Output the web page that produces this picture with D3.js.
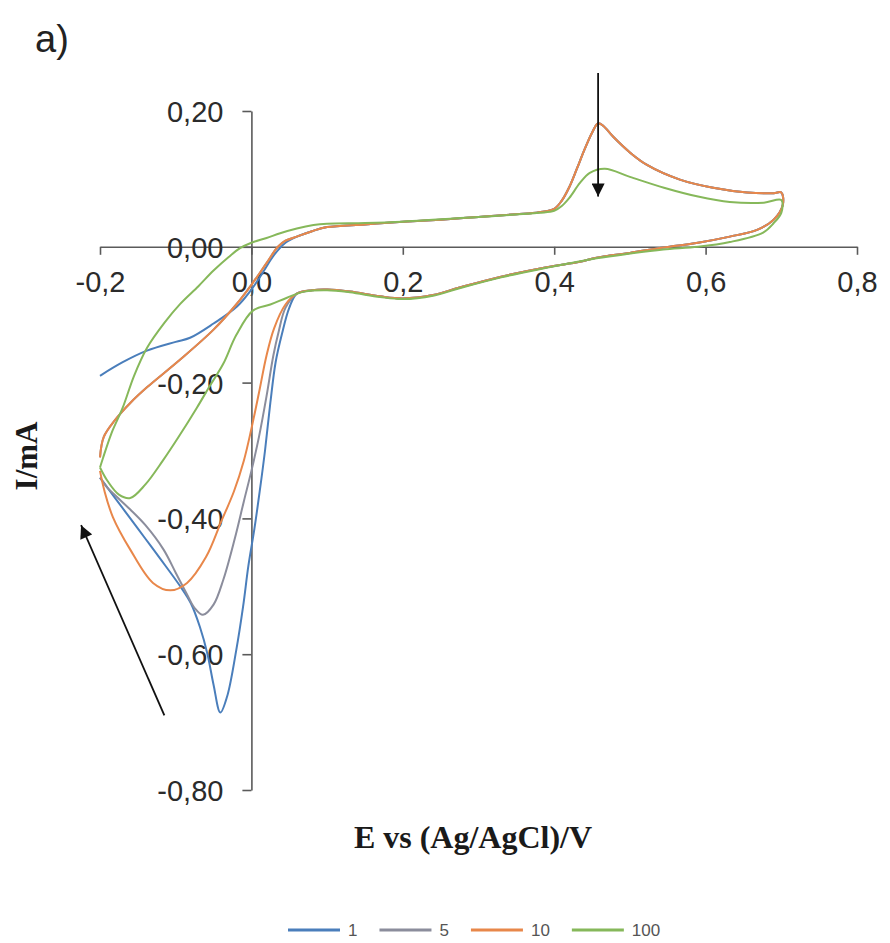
<!DOCTYPE html>
<html>
<head>
<meta charset="utf-8">
<script src="https://cdn.jsdelivr.net/npm/d3@7"></script>
<style>
  body { margin: 0; background: #fff; }
  svg { display: block; }
  .tick text { font-family: "Liberation Sans", Arial, sans-serif; font-size: 29px; fill: #2b2b2b; }
  .axis path, .axis line { stroke: #5a5a5a; stroke-width: 1.6; }
</style>
</head>
<body>
<svg id="chart" width="890" height="943"></svg>
<script>
// ---- data (E in V, I in mA), in scan order ----
const seriesNames = ['1', '5', '10', '100']
const seriesColors = ['#4a7ebb', '#8b8d9c', '#e8874a', '#86b85a']
const xTicks = [-0.2, 0, 0.2, 0.4, 0.6, 0.8]
const yTicks = [0.2, 0, -0.2, -0.4, -0.6, -0.8]

// anodic plateau + oxidation peak shared by 1, 5 and 10
const upperBranch = [[0.06, 0.015], [0.08, 0.023], [0.10, 0.029], [0.15, 0.033], [0.20, 0.037], [0.25, 0.040],
  [0.30, 0.044], [0.35, 0.048], [0.38, 0.051], [0.40, 0.056], [0.41, 0.068], [0.42, 0.088], [0.43, 0.115],
  [0.44, 0.143], [0.45, 0.168], [0.458, 0.182], [0.465, 0.178], [0.478, 0.162], [0.50, 0.139], [0.522, 0.121],
  [0.566, 0.099], [0.61, 0.087], [0.655, 0.080], [0.69, 0.079], [0.70, 0.080]]
// return scan from 0.7 V back to about 0.06 V
const lowerBranch = [[0.702, 0.062], [0.69, 0.040], [0.668, 0.025], [0.632, 0.015], [0.59, 0.006], [0.544, -0.001],
  [0.50, -0.009], [0.456, -0.016], [0.434, -0.022], [0.39, -0.030], [0.33, -0.044], [0.275, -0.060], [0.24, -0.071],
  [0.20, -0.076], [0.17, -0.073], [0.13, -0.066], [0.10, -0.063], [0.08, -0.064], [0.06, -0.069]]
// anodic rise from the -0.2 V vertex (5 and 10)
const vertexRise = [[-0.2, -0.31], [-0.195, -0.28], [-0.18, -0.255], [-0.16, -0.23], [-0.138, -0.207],
  [-0.094, -0.166], [-0.05, -0.122], [-0.02, -0.085], [0.0, -0.056], [0.02, -0.024], [0.035, 0.0], [0.045, 0.009]]

const cv1Start = [[-0.2, -0.19], [-0.17, -0.17], [-0.138, -0.153], [-0.1, -0.14], [-0.081, -0.134], [-0.05, -0.113],
  [-0.019, -0.088], [0.0, -0.063], [0.015, -0.038], [0.03, -0.012], [0.045, 0.006]]
const cv1Dive = [[0.05, -0.09], [0.04, -0.13], [0.032, -0.17], [0.025, -0.23], [0.018, -0.30], [0.011, -0.36],
  [0.004, -0.415], [-0.004, -0.47], [-0.011, -0.53], [-0.02, -0.594], [-0.032, -0.662], [-0.041, -0.686],
  [-0.05, -0.645], [-0.058, -0.60], [-0.068, -0.56], [-0.08, -0.525], [-0.094, -0.50], [-0.12, -0.46],
  [-0.14, -0.43], [-0.16, -0.40], [-0.18, -0.37], [-0.19, -0.355], [-0.2, -0.34]]
const cv5Dive = [[0.045, -0.09], [0.036, -0.125], [0.029, -0.16], [0.02, -0.22], [0.01, -0.28], [0.0, -0.33],
  [-0.01, -0.375], [-0.022, -0.43], [-0.037, -0.49], [-0.05, -0.527], [-0.064, -0.542], [-0.075, -0.532],
  [-0.085, -0.512], [-0.10, -0.48], [-0.116, -0.446], [-0.14, -0.41], [-0.16, -0.387], [-0.18, -0.366],
  [-0.19, -0.355], [-0.2, -0.34]]
const cv10Dive = [[0.045, -0.085], [0.03, -0.12], [0.02, -0.16], [0.01, -0.215], [0.0, -0.268], [-0.01, -0.315],
  [-0.023, -0.36], [-0.04, -0.405], [-0.06, -0.457], [-0.085, -0.495], [-0.107, -0.506], [-0.13, -0.495],
  [-0.16, -0.446], [-0.183, -0.398], [-0.194, -0.36], [-0.2, -0.33]]

const cv100 = [[-0.2, -0.325], [-0.196, -0.311], [-0.185, -0.275], [-0.17, -0.237], [-0.155, -0.19], [-0.138, -0.149],
  [-0.115, -0.112], [-0.094, -0.084], [-0.07, -0.058], [-0.05, -0.035], [-0.03, -0.015], [-0.015, -0.002], [0.0, 0.006],
  [0.02, 0.013], [0.038, 0.020], [0.06, 0.027], [0.082, 0.032], [0.10, 0.034], [0.15, 0.035], [0.20, 0.037],
  [0.30, 0.044], [0.38, 0.050], [0.40, 0.053], [0.41, 0.060], [0.42, 0.072], [0.434, 0.094], [0.447, 0.109],
  [0.467, 0.115], [0.50, 0.103], [0.545, 0.087], [0.59, 0.074], [0.632, 0.066], [0.677, 0.065], [0.70, 0.069],
  [0.70, 0.050], [0.69, 0.035], [0.676, 0.021], [0.632, 0.007], [0.59, 0.0], [0.544, -0.004], [0.50, -0.010],
  [0.456, -0.017], [0.39, -0.031], [0.33, -0.045], [0.275, -0.061], [0.24, -0.072], [0.20, -0.077], [0.17, -0.074],
  [0.13, -0.067], [0.10, -0.064], [0.07, -0.066], [0.047, -0.075], [0.025, -0.085], [0.002, -0.094], [-0.02, -0.13],
  [-0.037, -0.172], [-0.055, -0.205], [-0.072, -0.237], [-0.095, -0.278], [-0.117, -0.315], [-0.14, -0.35],
  [-0.16, -0.37], [-0.175, -0.365], [-0.19, -0.345], [-0.2, -0.325]]

const cv1 = [...cv1Start, ...upperBranch, ...lowerBranch, ...cv1Dive]
const cv5 = [...vertexRise, ...upperBranch, ...lowerBranch, ...cv5Dive]
const cv10 = [...vertexRise, ...upperBranch, ...lowerBranch, ...cv10Dive]
const curves = [cv1, cv5, cv10, cv100]

// annotation arrows, [from, to] in data units
const arrows = [[[0.458, 0.256], [0.458, 0.074]], [[-0.115, -0.69], [-0.225, -0.41]]]

// ---- drawing ----
const svg = d3.select('#chart')
const x = d3.scaleLinear().domain([-0.2, 0.8]).range([100, 857])
const y = d3.scaleLinear().domain([-0.8, 0.2]).range([790, 111])

const locale = d3.formatLocale({ decimal: ',', thousands: '.', grouping: [3], currency: ['', ''], minus: '-' })

const xAxis = svg.append('g')
    .attr('class', 'axis')
    .attr('transform', `translate(0,${y(0)})`)
    .call(d3.axisBottom(x).tickValues(xTicks).tickSize(8).tickSizeOuter(0).tickFormat(locale.format('.1f')))
xAxis.selectAll('.tick text').attr('y', 45).attr('dy', 0)

const yAxis = svg.append('g')
    .attr('class', 'axis')
    .attr('transform', `translate(${x(0)},0)`)
    .call(d3.axisLeft(y).tickValues(yTicks).tickSize(9).tickSizeOuter(0).tickFormat(locale.format('.2f')))
yAxis.selectAll('.tick text').attr('x', -28).attr('dy', '0.36em')

const line = d3.line()
    .x(d => x(d[0]))
    .y(d => y(d[1]))
    .curve(d3.curveCatmullRom.alpha(0.5))

svg.append('g')
    .selectAll('path')
    .data(curves)
    .enter()
    .append('path')
    .attr('d', line)
    .attr('fill', 'none')
    .attr('stroke', (d, i) => seriesColors[i])
    .attr('stroke-width', 2)
    .attr('stroke-linejoin', 'round')

svg.append('defs').append('marker')
    .attr('id', 'head')
    .attr('viewBox', '0 0 10 10')
    .attr('refX', 10).attr('refY', 5)
    .attr('markerWidth', 14).attr('markerHeight', 13)
    .attr('markerUnits', 'userSpaceOnUse')
    .attr('orient', 'auto')
    .append('path')
    .attr('d', 'M0,0L10,5L0,10Z')
    .attr('fill', '#111')

svg.append('g')
    .selectAll('line')
    .data(arrows)
    .enter()
    .append('line')
    .attr('x1', d => x(d[0][0])).attr('y1', d => y(d[0][1]))
    .attr('x2', d => x(d[1][0])).attr('y2', d => y(d[1][1]))
    .attr('stroke', '#111')
    .attr('stroke-width', 1.8)
    .attr('marker-end', 'url(#head)')

// titles
svg.append('text')
    .attr('x', 35).attr('y', 52)
    .style('font-family', '"Liberation Sans", Arial, sans-serif')
    .style('font-size', '38px')
    .style('fill', '#222')
    .text('a)')

svg.append('text')
    .attr('x', 473).attr('y', 848)
    .attr('text-anchor', 'middle')
    .style('font-family', '"Liberation Serif", "Times New Roman", serif')
    .style('font-weight', 'bold')
    .style('font-size', '32px')
    .style('fill', '#1a1a1a')
    .text('E  vs (Ag/AgCl)/V')

svg.append('text')
    .attr('transform', 'translate(37,456) rotate(-90)')
    .attr('text-anchor', 'middle')
    .style('font-family', '"Liberation Serif", "Times New Roman", serif')
    .style('font-weight', 'bold')
    .style('font-size', '31px')
    .style('fill', '#1a1a1a')
    .text('I/mA')

// legend
const legend = svg.append('g').attr('transform', 'translate(288,930)')
let lx = 0
seriesNames.forEach((name, i) => {
    const item = legend.append('g').attr('transform', `translate(${lx},0)`)
    item.append('line')
        .attr('x1', 0).attr('x2', 52)
        .attr('stroke', seriesColors[i])
        .attr('stroke-width', 3)
    const t = item.append('text')
        .attr('x', 60).attr('y', 6)
        .style('font-family', '"Liberation Sans", Arial, sans-serif')
        .style('font-size', '17px')
        .style('fill', '#555')
        .text(name)
    lx += 60 + t.node().getComputedTextLength() + 22
})
</script>
</body>
</html>
